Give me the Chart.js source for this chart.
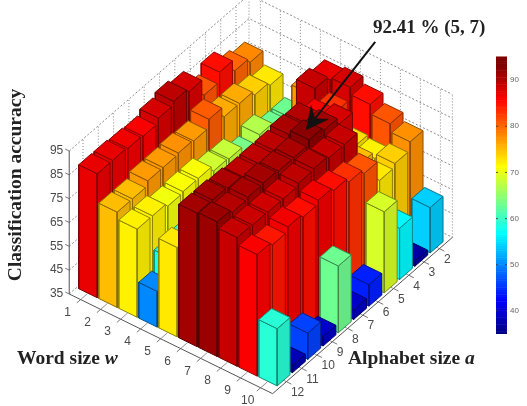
<!DOCTYPE html>
<html lang="en">
<head>
  <meta charset="UTF-8">
  <title>Classification accuracy by word size and alphabet size</title>
  <script src="https://cdn.jsdelivr.net/npm/chart.js"></script>
  <style>
    body { margin: 0; background: #fff; }
    canvas { display: block; }
  </style>
</head>
<body>
  <canvas id="chart" width="527" height="406"></canvas>

  <script>
    const wordSizes = [1, 2, 3, 4, 5, 6, 7, 8, 9, 10];
    const alphabetSizes = [2, 3, 4, 5, 6, 7, 8, 9, 10, 11, 12];
    const accuracyTicks = [35, 45, 55, 65, 75, 85, 95];
    const colorbarTicks = [40, 50, 60, 70, 80, 90];

    // accuracy per word size, one value for each alphabet size 2..12
    const accW1 = [78, 80, 85, 81, 88, 89.5, 88, 86, 86.5, 87, 87];
    const accW2 = [72.5, 74, 76, 76, 80.5, 77, 77.5, 77, 77, 75, 75];
    const accW3 = [63, 63, 67, 63.5, 68, 68.5, 71, 71, 70.5, 72, 72];
    const accW4 = [77, 60, 60, 60, 60, 58, 58, 58, 60, 58, 50];
    const accW5 = [87, 89, 70, 68, 66, 64, 62, 60, 60, 65, 72.5];
    const accW6 = [88, 83, 86, 90, 90.5, 89.5, 89.5, 89.5, 90.4, 91, 91];
    const accW7 = [85, 73, 88, 91, 92.41, 90.5, 90.5, 91, 90.7, 90, 91.5];
    const accW8 = [81, 72, 75, 89, 89, 90, 89.5, 88.5, 88.5, 88.7, 89];
    const accW9 = [77.5, 74, 72.5, 81, 83, 85, 86.5, 85, 86.5, 84.5, 86];
    const accW10 = [54, 37, 56.5, 69, 44, 39, 63, 39, 46, 38, 59];
    const accuracy = [accW1, accW2, accW3, accW4, accW5, accW6, accW7, accW8, accW9, accW10];

    const bestWord = 7, bestAlphabet = 6, bestAccuracy = 92.41;
    const bestLabel = '92.41 % (5, 7)';

    const zMin = 35, zMax = 95;
    const colorMax = 93;
    const wLo = 0.43, wHi = 10.6, aLo = 1.15, aHi = 12.9;

    // oblique view: word size goes down-right, alphabet size goes down-left
    function project(w, a, z) {
      return {
        x: 94.4 + 20 * (w - 1) - 15.3 * (a - 12),
        y: 287.6 + 9.8 * (w - 1) + 13.3 * (a - 12) - 2.383 * (z - zMin)
      };
    }

    // jet colormap, dark red from colorMax upwards
    function jet(v) {
      const t = Math.min(1, (v - zMin) / (colorMax - zMin));
      const c = d => Math.max(0, Math.min(1, 1.5 - Math.abs(4 * t - d)));
      return [c(3), c(2), c(1)];
    }
    function rgb(col, k) {
      return 'rgb(' + col.map(n => Math.round(n * k * 255)).join(',') + ')';
    }

    const drawList = [];

    function addLine(points, color, width, dash) {
      drawList.push({
        data: points, borderColor: color, borderWidth: width, borderDash: dash || [],
        fill: false, pointRadius: 0, tension: 0
      });
    }
    function addFace(points, fillColor, edgeColor) {
      drawList.push({
        data: points.concat([points[0]]), borderColor: edgeColor, borderWidth: 1,
        backgroundColor: fillColor, fill: 'shape', pointRadius: 0, tension: 0
      });
    }

    // back walls
    const gridColor = '#6e6e6e';
    accuracyTicks.forEach(z => {
      addLine([project(wLo, aHi, z), project(wLo, aLo, z), project(wHi, aLo, z)], gridColor, 0.8, [2, 2]);
    });
    alphabetSizes.forEach(a => {
      addLine([project(wLo, a, zMin), project(wLo, a, zMax)], gridColor, 0.8, [1, 2]);
    });
    wordSizes.forEach(w => {
      addLine([project(w, aLo, zMin), project(w, aLo, zMax)], gridColor, 0.8, [1, 2]);
    });
    addLine([project(wLo, aLo, zMin), project(wLo, aLo, zMax)], gridColor, 0.8, [1, 2]);
    addLine([project(wHi, aLo, zMin), project(wHi, aLo, zMax)], gridColor, 0.8, [1, 2]);

    // floor edges and tick marks
    addLine([project(wLo, aHi, zMin), project(wHi, aHi, zMin), project(wHi, aLo, zMin)], '#555', 1);
    addLine([project(wLo, aHi, zMin), project(wLo, aHi, zMax)], '#555', 1);
    wordSizes.forEach(w => {
      addLine([project(w, aHi, zMin), project(w, aHi - 0.45, zMin)], '#777', 0.8);
      addLine([project(w, aHi, zMin), project(w, aHi + 0.25, zMin)], '#555', 0.8);
    });
    alphabetSizes.forEach(a => {
      addLine([project(wHi, a, zMin), project(wHi - 0.35, a, zMin)], '#777', 0.8);
      addLine([project(wHi, a, zMin), project(wHi + 0.25, a, zMin)], '#555', 0.8);
    });
    accuracyTicks.forEach(z => {
      addLine([project(wLo, aHi, z), project(wLo - 0.2, aHi, z)], '#555', 0.8);
    });

    // bars, far ones first so the near ones cover them
    const halfW = 0.46, halfA = 0.42;
    wordSizes.forEach((w, i) => {
      alphabetSizes.forEach((a, j) => {
        const v = accuracy[i][j];
        const col = jet(v);
        const edge = rgb(col, 0.55);
        const w0 = w - halfW, w1 = w + halfW, a0 = a - halfA, a1 = a + halfA;
        addFace([project(w0, a1, zMin), project(w1, a1, zMin), project(w1, a1, v), project(w0, a1, v)], rgb(col, 1), edge);
        addFace([project(w1, a1, zMin), project(w1, a0, zMin), project(w1, a0, v), project(w1, a1, v)], rgb(col, 0.9), edge);
        addFace([project(w0, a1, v), project(w1, a1, v), project(w1, a0, v), project(w0, a0, v)], rgb(col, 1), edge);
      });
    });

    // arrow pointing at the best bar
    const tip = project(bestWord, bestAlphabet, bestAccuracy);
    const tail = { x: tip.x + 69, y: tip.y - 88 };
    const len = Math.hypot(tail.x - tip.x, tail.y - tip.y);
    const ux = (tail.x - tip.x) / len, uy = (tail.y - tip.y) / len;
    const headPoint = (along, side) => ({
      x: tip.x + ux * along - uy * side,
      y: tip.y + uy * along + ux * side
    });
    addLine([tail, headPoint(14, 0)], '#111', 2);
    drawList.push({
      data: [tip, headPoint(22, 11), headPoint(14, 0), headPoint(22, -11), tip],
      borderColor: '#111', borderWidth: 0.5, backgroundColor: '#111',
      fill: 'shape', pointRadius: 0, tension: 0
    });

    // colour bar on the right
    const barLeft = 496, barRight = 507;
    const barY = v => 334 - (v - zMin) * 4.617;
    for (let v = zMin; v < zMax; v += 0.5) {
      drawList.push({
        data: [{ x: barLeft, y: barY(v) }, { x: barRight, y: barY(v) }, { x: barRight, y: barY(v + 0.5) - 0.5 }, { x: barLeft, y: barY(v + 0.5) - 0.5 }],
        borderWidth: 0, backgroundColor: rgb(jet(v + 0.25), 1), fill: 'shape', pointRadius: 0, tension: 0
      });
    }
    colorbarTicks.forEach(v => {
      addLine([{ x: barLeft, y: barY(v) }, { x: barLeft + 2, y: barY(v) }], '#333', 0.8);
      addLine([{ x: barRight - 2, y: barY(v) }, { x: barRight, y: barY(v) }], '#333', 0.8);
    });

    // text: tick labels and titles
    const labelsPlugin = {
      id: 'labels',
      afterDraw(chart) {
        const ctx = chart.ctx;
        ctx.save();
        ctx.textBaseline = 'middle';

        ctx.fillStyle = '#4a4a4a';
        ctx.font = '12px "Liberation Sans"';
        ctx.textAlign = 'right';
        accuracyTicks.forEach(z => {
          const p = project(wLo, aHi, z);
          ctx.fillText(String(z), p.x - 6, p.y);
        });
        ctx.textAlign = 'center';
        wordSizes.forEach(w => {
          const p = project(w, aHi, zMin);
          ctx.fillText(String(w), p.x - 13, p.y + 13);
        });
        ctx.textAlign = 'left';
        alphabetSizes.forEach(a => {
          const p = project(wHi, a, zMin);
          ctx.fillText(String(a), p.x + 4.5, p.y + 11);
        });

        ctx.font = '8px "Liberation Sans"';
        ctx.fillStyle = '#666';
        colorbarTicks.forEach(v => ctx.fillText(String(v), 510, barY(v)));

        ctx.fillStyle = '#222';
        ctx.font = 'bold 19px "Liberation Serif"';
        ctx.fillText(bestLabel, 373, 28);

        ctx.font = 'bold 19.5px "Liberation Serif"';
        ctx.fillText('Word size ', 17, 359);
        let x = 17 + ctx.measureText('Word size ').width;
        ctx.font = 'italic bold 19.5px "Liberation Serif"';
        ctx.fillText('w', x, 359);

        ctx.font = 'bold 19.5px "Liberation Serif"';
        ctx.fillText('Alphabet size ', 348, 359);
        x = 348 + ctx.measureText('Alphabet size ').width;
        ctx.font = 'italic bold 19.5px "Liberation Serif"';
        ctx.fillText('a', x, 359);

        ctx.translate(16, 185);
        ctx.rotate(-Math.PI / 2);
        ctx.textAlign = 'center';
        ctx.font = 'bold 19.5px "Liberation Serif"';
        ctx.fillText('Classification accuracy', 0, 0);
        ctx.restore();
      }
    };

    new Chart(document.getElementById('chart').getContext('2d'), {
      type: 'line',
      // the library paints the first dataset last
      data: { datasets: drawList.slice().reverse() },
      plugins: [labelsPlugin],
      options: {
        responsive: false,
        animation: false,
        events: [],
        layout: { padding: 0 },
        plugins: { legend: { display: false }, tooltip: { enabled: false } },
        scales: {
          x: { type: 'linear', display: false, min: 0, max: 527 },
          y: { type: 'linear', display: false, min: 0, max: 406, reverse: true }
        }
      }
    });
  </script>
</body>
</html>
